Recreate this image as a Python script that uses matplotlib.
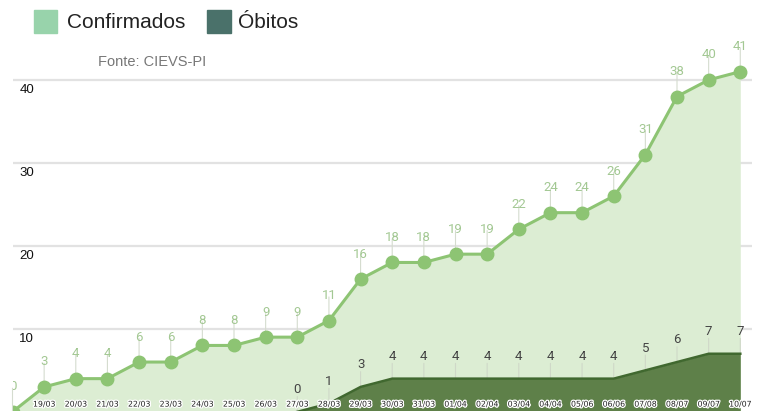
import numpy as np
import matplotlib
matplotlib.use("Agg")
import matplotlib.pyplot as plt
import matplotlib.patheffects as pe
from matplotlib.patches import Rectangle

# dados
datas = ["19/03", "20/03", "21/03", "22/03", "23/03", "24/03", "25/03", "26/03",
         "27/03", "28/03", "29/03", "30/03", "31/03", "01/04", "02/04", "03/04",
         "04/04", "05/06", "06/06", "07/08", "08/07", "09/07", "10/07"]
confirmados = [0, 3, 4, 4, 6, 6, 8, 8, 9, 9, 11, 16, 18, 18, 19, 19, 22, 24, 24,
               26, 31, 38, 40, 41]
obitos = [0, 1, 3, 4, 4, 4, 4, 4, 4, 4, 4, 5, 6, 7, 7]
inicio_obitos = 9  # posição de 27/03
yticks = [10, 20, 30, 40]

W, H = 759, 411
fig = plt.figure(figsize=(W / 100, H / 100), dpi=100)
ax = fig.add_axes([12.5 / W, 0, (752 - 12.5) / W, 1])

x_conf = np.arange(len(confirmados))
x_ob = np.arange(inicio_obitos, inicio_obitos + len(obitos))

verde = "#8dc473"
ax.fill_between(x_conf, confirmados, 0, color="#dcedd3", zorder=1, lw=0)
ax.plot(x_conf, confirmados, color=verde, lw=2.2, zorder=4,
        marker="o", ms=9, mec=verde, mfc=verde, solid_joinstyle="round")

ax.fill_between(x_ob, obitos, 0, color="#5e8049", zorder=3, lw=0)
ax.plot(x_ob, obitos, color="#40682f", lw=1.8, zorder=3)

for y in yticks:
    ax.axhline(y, color="#e2e2e2", lw=1.6, zorder=0.5)
    ax.annotate(str(y), (0, y), xycoords=("axes fraction", "data"),
                xytext=(5, -3), textcoords="offset points", ha="left", va="top",
                fontsize=9.5, color="#111111", family="Liberation Sans")

# rótulos dos valores
for xi, v in zip(x_conf, confirmados):
    ax.annotate("", (xi, v), xytext=(0, 17), textcoords="offset points",
                arrowprops=dict(arrowstyle="-", color="#d5dccf", lw=0.8,
                                shrinkA=0, shrinkB=0), zorder=2,
                annotation_clip=False, clip_on=True)
    ax.annotate(str(v), (xi, v), xytext=(0, 18), textcoords="offset points",
                ha="center", va="center", fontsize=9.5, color="#a3c893",
                family="Roboto", zorder=5, annotation_clip=False, clip_on=True)

for xi, v in zip(x_ob, obitos):
    ax.annotate("", (xi, v), xytext=(0, 11), textcoords="offset points",
                arrowprops=dict(arrowstyle="-", color="#cfd8c8", lw=0.8,
                                shrinkA=0, shrinkB=0), zorder=2,
                annotation_clip=False)
    ax.annotate(str(v), (xi, v), xytext=(0, 16), textcoords="offset points",
                ha="center", va="center", fontsize=9.5, color="#444444",
                family="Roboto", zorder=5, annotation_clip=False)

# rótulos das datas
for xi, d in zip(x_conf[1:], datas):
    ax.annotate(d, (xi, 0), xycoords=("data", "axes fraction"),
                xytext=(0, 5), textcoords="offset points", ha="center",
                va="center", fontsize=5.6, color="#222222",
                family="DejaVu Sans", annotation_clip=False, zorder=6,
                path_effects=[pe.withStroke(linewidth=1.8, foreground="white")])

ax.set_xlim(0, 23.37)
ax.set_ylim(0.1, 49.63)
ax.axis("off")

# legenda
def px(x, y):
    return x / W, 1 - y / H

fig.add_artist(Rectangle(px(34, 33), 23 / W, 23 / H, color="#98d3ab",
                         transform=fig.transFigure))
fig.text(*px(67, 23), "Confirmados", fontsize=15, va="center", ha="left",
         color="#222222", family="Liberation Sans")
fig.add_artist(Rectangle(px(207, 33), 24 / W, 23 / H, color="#4a716a",
                         transform=fig.transFigure))
fig.text(*px(238, 23), "Óbitos", fontsize=15, va="center", ha="left",
         color="#222222", family="Liberation Sans")
fig.text(*px(98, 62), "Fonte: CIEVS-PI", fontsize=10.5, va="center", ha="left",
         color="#777777", family="Liberation Sans")

fig.savefig("out.png", dpi=100)
